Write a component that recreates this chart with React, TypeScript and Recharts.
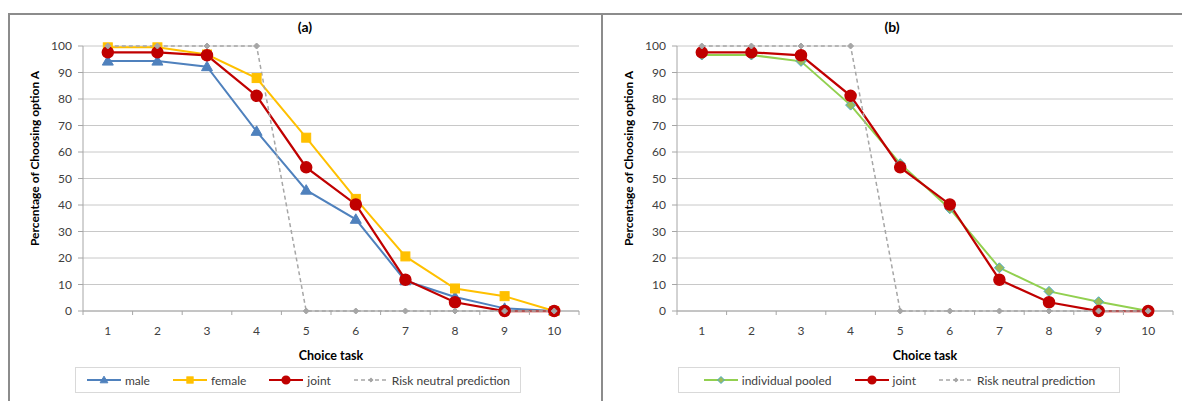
import React from 'react'
import {
  LineChart,
  Line,
  XAxis,
  YAxis,
  CartesianGrid
} from 'recharts'

// values
const tasks = ['1', '2', '3', '4', '5', '6', '7', '8', '9', '10']
const male = [94.3, 94.3, 92.2, 67.8, 45.6, 34.6, 11.4, 5.3, 1, 0]
const female = [99.5, 99.5, 96.8, 87.9, 65.4, 42.3, 20.6, 8.5, 5.6, 0]
const joint = [97.6, 97.6, 96.5, 81.2, 54.2, 40.2, 11.8, 3.3, 0, 0]
const individualPooled = [96.6, 96.6, 94.2, 77.7, 55.6, 38.6, 16.3, 7.4, 3.5, 0]
const riskNeutral = [100, 100, 100, 100, 0, 0, 0, 0, 0, 0]
const yTicks = [0, 10, 20, 30, 40, 50, 60, 70, 80, 90, 100]

const COLORS = {
  male: '#4F81BD',
  female: '#FFC000',
  joint: '#C00000',
  pooled: '#92D050',
  neutral: '#A6A6A6',
  grid: '#C8C8C8',
  axis: '#A6A6A6',
  text: '#404040'
}

const FONT = 'Lato, "Open Sans", sans-serif'
const HALF_BAND = 24.8

type Shape = 'triangle' | 'square' | 'circle' | 'diamond' | 'smallDiamond'

interface SeriesDef {
  key: string
  name: string
  color: string
  shape: Shape
  values: number[]
  dashed?: boolean
  width: number
}

function Marker({ cx, cy, shape, color, k = 1 }: { cx: number; cy: number; shape: Shape; color: string; k?: number }) {
  if (cx == null || cy == null) return null
  switch (shape) {
    case 'triangle':
      return <polygon points={`${cx},${cy - 5.5 * k} ${cx + 5.5 * k},${cy + 4 * k} ${cx - 5.5 * k},${cy + 4 * k}`} fill={color} stroke={color} />
    case 'square':
      return <rect x={cx - 4.5 * k} y={cy - 4.5 * k} width={9 * k} height={9 * k} fill={color} stroke={color} />
    case 'circle':
      return <circle cx={cx} cy={cy} r={5.5 * k} fill={color} stroke={color} strokeWidth={1.5} />
    case 'diamond':
      return <polygon points={`${cx},${cy - 5 * k} ${cx + 5 * k},${cy} ${cx},${cy + 5 * k} ${cx - 5 * k},${cy}`} fill="#9BBB59" stroke="#4BACC6" strokeWidth={1} />
    case 'smallDiamond':
      return <polygon points={`${cx},${cy - 3 * k} ${cx + 3 * k},${cy} ${cx},${cy + 3 * k} ${cx - 3 * k},${cy}`} fill={color} stroke={color} />
  }
  return null
}

function XTick(props: any) {
  const { x, y, payload, index } = props
  const axisY = y - 14
  return (
    <g>
      <line x1={x + HALF_BAND} x2={x + HALF_BAND} y1={axisY} y2={axisY + 4} stroke={COLORS.axis} />
      {index === 0 && (
        <line x1={x - HALF_BAND} x2={x - HALF_BAND} y1={axisY} y2={axisY + 4} stroke={COLORS.axis} />
      )}
      <text x={x} y={y} dy={10} textAnchor="middle" fontSize={12} fill={COLORS.text} fontFamily={FONT}>
        {payload.value}
      </text>
    </g>
  )
}

function Panel({ title, series, width, marginRight }: { title: string; series: SeriesDef[]; width: number; marginRight: number }) {
  const rows = tasks.map((t, i) => {
    const row: Record<string, string | number> = { task: t }
    series.forEach(s => { row[s.key] = s.values[i] })
    return row
  })

  return (
    <div style={{ position: 'relative', width, height: 388 }}>
      <div style={{ position: 'absolute', top: 5, left: 0, width, textAlign: 'center', fontFamily: FONT, fontWeight: 700, fontSize: 14, color: '#000' }}>
        {title}
      </div>
      <LineChart width={width} height={388} data={rows} margin={{ top: 33, right: marginRight, bottom: 0, left: 0 }}>
        <CartesianGrid vertical={false} stroke={COLORS.grid} />
        <XAxis
          dataKey="task"
          padding={{ left: HALF_BAND, right: HALF_BAND }}
          height={90}
          tickLine={false}
          tickSize={4}
          tickMargin={10}
          axisLine={{ stroke: COLORS.axis }}
          tick={<XTick />}
          interval={0}
          label={{ value: 'Choice task', position: 'insideBottom', offset: 41, style: { fontFamily: FONT, fontWeight: 700, fontSize: 12.5, fill: '#000' } }}
        />
        <YAxis
          domain={[0, 100]}
          ticks={yTicks}
          width={75}
          tickSize={5}
          tickMargin={6}
          interval={0}
          axisLine={{ stroke: COLORS.axis }}
          tickLine={{ stroke: COLORS.axis }}
          tick={{ fontSize: 12, fill: COLORS.text, fontFamily: FONT }}
          label={{ value: 'Percentage of Choosing option A', angle: -90, position: 'center', dx: -11, dy: -20, style: { fontFamily: FONT, fontWeight: 700, fontSize: 12, fill: '#000' } }}
        />
        {series.map(s => (
          <Line
            key={s.key}
            dataKey={s.key}
            name={s.name}
            type="linear"
            stroke={s.color}
            strokeWidth={s.width}
            strokeDasharray={s.dashed ? '4 3' : undefined}
            dot={(p: any) => <Marker key={`${s.key}-${p.index}`} cx={p.cx} cy={p.cy} shape={s.shape} color={s.color} />}
            activeDot={false}
            isAnimationActive={false}
          />
        ))}
      </LineChart>
    </div>
  )
}

function LegendIcon({ s }: { s: SeriesDef }) {
  return (
    <svg width={36} height={12} style={{ display: 'block' }}>
      <line x1={1} x2={35} y1={6} y2={6} stroke={s.color} strokeWidth={s.dashed ? 1.5 : 2} strokeDasharray={s.dashed ? '4 3' : undefined} />
      <Marker cx={18} cy={6} shape={s.shape} color={s.color} k={0.7} />
    </svg>
  )
}

function LegendBox({ series, left, width, gap }: { series: SeriesDef[]; left: number; width: number; gap: number }) {
  return (
    <div style={{
      position: 'absolute', left, top: 367, width, height: 26, boxSizing: 'border-box',
      border: '1px solid #D9D9D9', display: 'flex', alignItems: 'center', justifyContent: 'center',
      gap, fontFamily: FONT, fontSize: 12, color: COLORS.text
    }}>
      {series.map(s => (
        <div key={s.key} style={{ display: 'flex', alignItems: 'center', gap: 3 }}>
          <LegendIcon s={s} />
          <span>{s.name}</span>
        </div>
      ))}
    </div>
  )
}

const neutralSeries: SeriesDef = { key: 'neutral', name: 'Risk neutral prediction', color: COLORS.neutral, shape: 'smallDiamond', values: riskNeutral, dashed: true, width: 1.5 }
const jointSeries: SeriesDef = { key: 'joint', name: 'joint', color: COLORS.joint, shape: 'circle', values: joint, width: 2.25 }

const seriesA: SeriesDef[] = [
  { key: 'male', name: 'male', color: COLORS.male, shape: 'triangle', values: male, width: 2 },
  { key: 'female', name: 'female', color: COLORS.female, shape: 'square', values: female, width: 2 },
  jointSeries,
  neutralSeries
]

const seriesB: SeriesDef[] = [
  { key: 'pooled', name: 'individual pooled', color: COLORS.pooled, shape: 'diamond', values: individualPooled, width: 2 },
  jointSeries,
  neutralSeries
]

export default function App() {
  return (
    <div style={{ position: 'absolute', left: 0, top: 0, width: 1182, height: 401, background: '#fff', overflow: 'hidden' }}>
      <div style={{ position: 'absolute', left: 8, top: 13, width: 1174, height: 388, borderTop: '2px solid #8C8C8C', borderLeft: '2px solid #8C8C8C', boxSizing: 'border-box' }} />
      <div style={{ position: 'absolute', left: 8, top: 13 }}>
        <Panel title="(a)" series={seriesA} width={594} marginRight={23} />
      </div>
      <div style={{ position: 'absolute', left: 601, top: 13, width: 2, height: 388, background: '#8C8C8C' }} />
      <div style={{ position: 'absolute', left: 602, top: 13 }}>
        <Panel title="(b)" series={seriesB} width={580} marginRight={9} />
      </div>
      <LegendBox series={seriesA} left={75} width={446} gap={22} />
      <LegendBox series={seriesB} left={678} width={442} gap={22} />
    </div>
  )
}
